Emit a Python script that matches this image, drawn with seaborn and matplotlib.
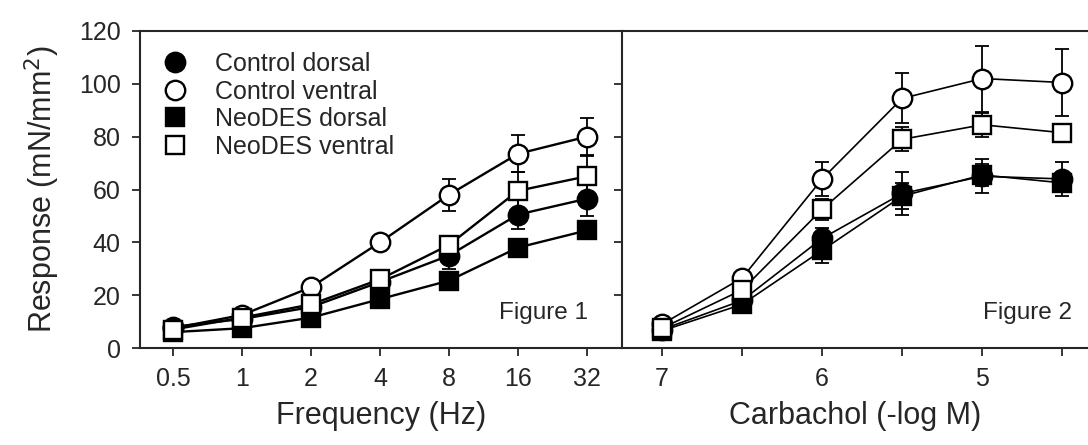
import numpy as np
import pandas as pd
import matplotlib
matplotlib.use("Agg")
import matplotlib.pyplot as plt
from matplotlib.lines import Line2D
import seaborn as sns

# ------------------------------------------
# Data
# ------------------------------------------

series_names = ["Control dorsal", "Control ventral", "NeoDES dorsal", "NeoDES ventral"]
series_markers = ["o", "o", "s", "s"]
series_faces = ["black", "white", "black", "white"]

# Figure 1 : electrical field stimulation
freq = [0.5, 1, 2, 4, 8, 16, 32]
freq_ctrl_dorsal = [8, 11, 15.5, 25, 35, 50.5, 56.5]
freq_ctrl_dorsal_err = [1, 1, 1.5, 2, 5, 5.5, 6.5]
freq_ctrl_ventral = [7.5, 12.5, 23, 40, 58, 73.5, 80]
freq_ctrl_ventral_err = [1, 1, 1.5, 2.5, 6, 7, 7]
freq_neo_dorsal = [6, 7.5, 11.5, 18.5, 25.5, 38, 44.5]
freq_neo_dorsal_err = [0.5, 1, 1, 1.5, 2.5, 2, 2]
freq_neo_ventral = [7, 11.5, 16.5, 26, 39, 59.5, 65]
freq_neo_ventral_err = [0.5, 1, 1.5, 2, 3, 7, 7.5]

# Figure 2 : carbachol concentration response
carb = [7, 6.5, 6, 5.5, 5, 4.5]
carb_ctrl_dorsal = [7, 18, 41.5, 58.5, 65, 64]
carb_ctrl_dorsal_err = [1, 1.5, 4, 8, 6.5, 6.5]
carb_ctrl_ventral = [9, 26.5, 64, 94.5, 102, 100.5]
carb_ctrl_ventral_err = [1, 2, 6.5, 9.5, 12.5, 12.5]
carb_neo_dorsal = [6.5, 16.5, 37, 57.5, 65.5, 62.5]
carb_neo_dorsal_err = [1, 1.5, 5, 5, 4, 2]
carb_neo_ventral = [7.5, 22, 52.5, 79, 84.5, 81.5]
carb_neo_ventral_err = [1, 2, 4, 4.5, 4.5, 2]

freq_values = [freq_ctrl_dorsal, freq_ctrl_ventral, freq_neo_dorsal, freq_neo_ventral]
freq_errors = [freq_ctrl_dorsal_err, freq_ctrl_ventral_err, freq_neo_dorsal_err, freq_neo_ventral_err]
carb_values = [carb_ctrl_dorsal, carb_ctrl_ventral, carb_neo_dorsal, carb_neo_ventral]
carb_errors = [carb_ctrl_dorsal_err, carb_ctrl_ventral_err, carb_neo_dorsal_err, carb_neo_ventral_err]

# ------------------------------------------
# Style
# ------------------------------------------

sns.set_style("ticks")
plt.rcParams["font.family"] = ["Liberation Sans", "DejaVu Sans"]
plt.rcParams["axes.linewidth"] = 1.5

fig = plt.figure(figsize=(10.88, 4.45), dpi=100)
ax1 = fig.add_axes([140 / 1088, 97 / 445, 482 / 1088, 317 / 445])
ax2 = fig.add_axes([622 / 1088, 97 / 445, 466 / 1088, 317 / 445])


def draw_panel(ax, x, values, errors, lw):
    for name, marker, face, y, err in zip(series_names, series_markers,
                                          series_faces, values, errors):
        ax.errorbar(x, y, yerr=err, fmt="none", ecolor="black",
                    elinewidth=1.3, capsize=5, capthick=1.3, zorder=2)
        df = pd.DataFrame({"x": x, "y": y})
        sns.lineplot(data=df, x="x", y="y", ax=ax, color="black",
                     linewidth=lw, marker=marker, markersize=14 if marker == "o" else 13,
                     markerfacecolor=face, markeredgecolor="black",
                     markeredgewidth=1.7, zorder=3)


# ------------------------------------------
# Figure 1 panel
# ------------------------------------------

ax1.set_xscale("log", base=2)
draw_panel(ax1, freq, freq_values, freq_errors, 1.7)
ax1.set_xlim(2 ** -1.48, 2 ** 5.51)
ax1.set_xticks(freq)
ax1.set_xticklabels(["0.5", "1", "2", "4", "8", "16", "32"])
ax1.minorticks_off()
ax1.set_ylim(0, 120)
ax1.set_yticks(range(0, 121, 20))
ax1.set_xlabel("Frequency (Hz)", fontsize=22, labelpad=7)
ax1.set_ylabel("Response (mN/mm$^2$)", fontsize=22, labelpad=12)
ax1.spines["right"].set_visible(False)
ax1.text(0.93, 0.11, "Figure 1", transform=ax1.transAxes, fontsize=17.5,
         ha="right", va="center")

handles = [Line2D([], [], ls="none", marker=m, markersize=14 if m == "o" else 13,
                  markerfacecolor=f, markeredgecolor="black", markeredgewidth=1.7)
           for m, f in zip(series_markers, series_faces)]
ax1.legend(handles, series_names, loc="upper left", bbox_to_anchor=(0.02, 0.965),
           frameon=False, fontsize=18, handletextpad=1.0, labelspacing=0.14,
           borderaxespad=0, handlelength=1.2)

# ------------------------------------------
# Figure 2 panel
# ------------------------------------------

draw_panel(ax2, carb, carb_values, carb_errors, 1.2)
ax2.set_xlim(7.25, 4.34)
ax2.set_xticks(carb)
ax2.set_xticklabels(["7", "", "6", "", "5", ""])
ax2.set_ylim(0, 120)
ax2.set_yticks(range(0, 121, 20))
ax2.set_yticklabels([])
ax2.set_ylabel("")
ax2.set_xlabel("Carbachol (-log M)", fontsize=22, labelpad=7)
ax2.spines["right"].set_visible(False)
ax2.text(0.966, 0.11, "Figure 2", transform=ax2.transAxes, fontsize=17.5,
         ha="right", va="center")

for ax in (ax1, ax2):
    ax.tick_params(direction="out", length=6, width=1.3, labelsize=18, pad=8)

fig.savefig("out.png", dpi=100)
